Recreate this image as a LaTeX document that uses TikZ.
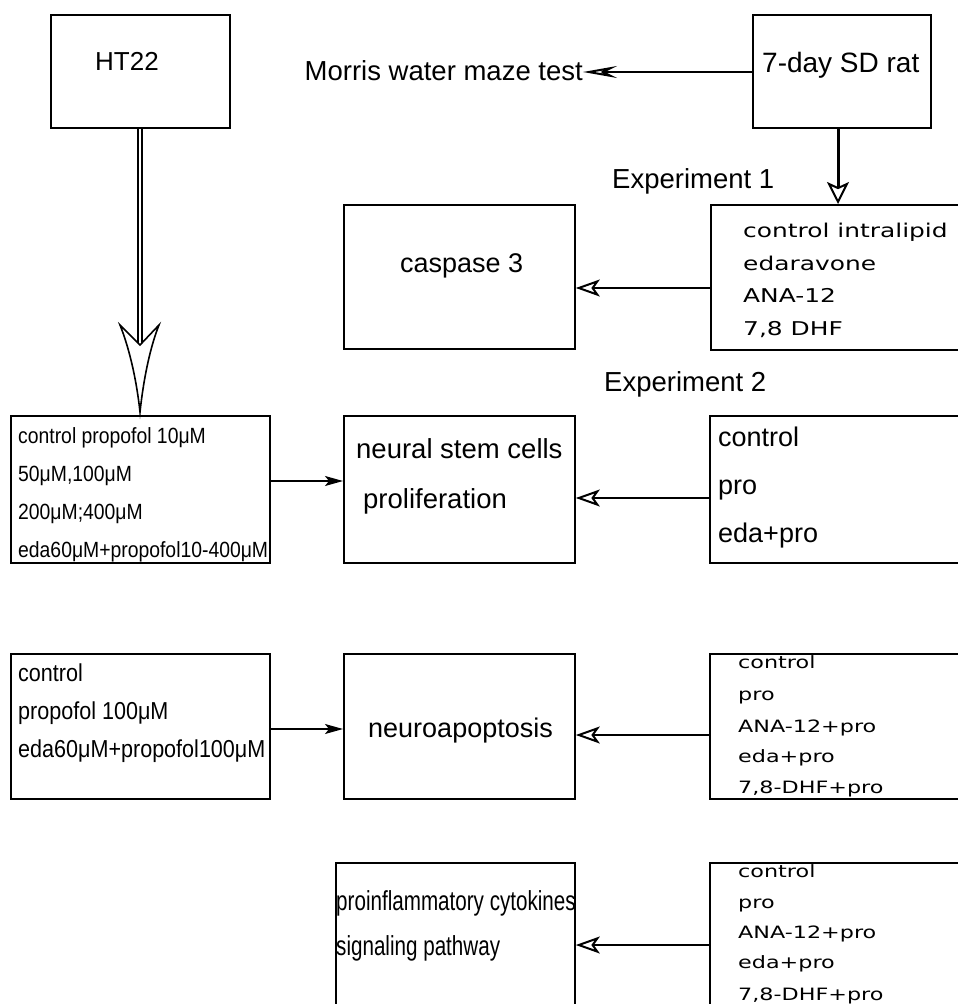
\documentclass[tikz,border=0pt]{standalone}
\usepackage{fontspec}
\setmainfont{Liberation Sans}
\newfontfamily\narrowf[FakeStretch=0.75]{Liberation Sans}
\newfontfamily\semif[FakeStretch=0.88]{Liberation Sans}
\newfontfamily\widef[FakeStretch=1.31]{DejaVu Sans}
\usetikzlibrary{arrows.meta}
\newcommand\setfs[1]{\fontsize{#1}{#1}\selectfont}
\begin{document}
\begin{tikzpicture}[x=1pt,y=-1pt,
  box/.style={draw, line width=1.8pt, inner sep=0pt, anchor=north west},
  txt/.style={inner sep=0pt, anchor=base west},
  big/.style={txt, font=\setfs{27}},
  small/.style={txt, font=\semif\setfs{22}},
  smallb/.style={txt, font=\semif\setfs{24.5}},
  wide/.style={txt, font=\widef\setfs{19}},
  wides/.style={txt, font=\widef\setfs{17}},
  narrow/.style={txt, font=\narrowf\setfs{27.5}},
  conn/.style={line width=2.6pt, -{Stealth[open, length=24pt, width=17pt, inset=6pt, line width=2pt]}},
  thin/.style={line width=1.4pt, -{Stealth[length=18pt, width=10pt, inset=4pt]}},
  marr/.style={line width=2pt, -{Stealth[open, length=34pt, width=12pt, inset=12pt, line width=2pt]}},
  downarr/.style={line width=3pt, -{Stealth[open, length=22pt, width=22pt, inset=5pt, line width=2pt]}},
  dbl/.style={draw, line width=1.8pt, double, double distance=2.6pt}
]
\useasboundingbox (0,0) rectangle (958,1004);
\fill[white] (0,0) rectangle (958,1004);

% boxes
\node[box, minimum width=179pt, minimum height=113pt] (ht) at (50,14) {};
\node[box, minimum width=178pt, minimum height=113pt] (rat) at (752,14) {};
\node[box, minimum width=231pt, minimum height=144pt] (cas) at (343,204) {};
\node[box, minimum width=252pt, minimum height=145pt] (e1) at (710,204) {};
\node[box, minimum width=259pt, minimum height=147pt] (l2) at (10,415) {};
\node[box, minimum width=231pt, minimum height=147pt] (ns) at (343,415) {};
\node[box, minimum width=253pt, minimum height=147pt] (r2) at (709,415) {};
\node[box, minimum width=259pt, minimum height=145pt] (l3) at (10,653) {};
\node[box, minimum width=231pt, minimum height=145pt] (na) at (343,653) {};
\node[box, minimum width=253pt, minimum height=145pt] (r3) at (709,653) {};
\node[box, minimum width=239pt, minimum height=152pt] (pc) at (335,862) {};
\node[box, minimum width=253pt, minimum height=152pt] (r4) at (709,862) {};

% texts
\node[inner sep=0pt, anchor=base, font=\setfs{26}] (htt) at (127,70) {HT22};
\node[txt, font=\setfs{28}] (ratt) at (762,72) {7-day SD rat};
\node[inner sep=0pt, anchor=base east, font=\setfs{27.5}] (morris) at (583,80) {Morris water maze test};
\node[txt, font=\setfs{27.5}] (ex1) at (612,188) {Experiment 1};
\node[txt, font=\setfs{27.5}] (ex2) at (604,391) {Experiment 2};
\node[big] (cast) at (400,272) {caspase 3};

\node[wide] (e1a) at (743,237) {control intralipid};
\node[wide] (e1b) at (743,270) {edaravone};
\node[wide] (e1c) at (743,302) {ANA-12};
\node[wide] (e1d) at (743,335) {7,8 DHF};

\node[small] (l2a) at (18,443) {control propofol 10μM};
\node[small] (l2b) at (18,481) {50μM,100μM};
\node[small] (l2c) at (18,519) {200μM;400μM};
\node[small] (l2d) at (18,557) {eda60μM+propofol10-400μM};

\node[txt, font=\setfs{27.5}] (nsa) at (356,458) {neural stem cells};
\node[txt, font=\setfs{27.5}] (nsb) at (363,508) {proliferation};

\node[big] (r2a) at (718,446) {control};
\node[big] (r2b) at (718,494) {pro};
\node[big] (r2c) at (718,542) {eda+pro};

\node[smallb] (l3a) at (18,681) {control};
\node[smallb] (l3b) at (18,719) {propofol 100μM};
\node[smallb] (l3c) at (18,757) {eda60μM+propofol100μM};

\node[big] (nat) at (368,737) {neuroapoptosis};

\node[wides] (r3a) at (738,668) {control};
\node[wides] (r3b) at (738,700) {pro};
\node[wides] (r3c) at (738,732) {ANA-12+pro};
\node[wides] (r3d) at (738,762) {eda+pro};
\node[wides] (r3e) at (738,793) {7,8-DHF+pro};

\node[narrow] (pca) at (336,910) {proinflammatory cytokines};
\node[narrow] (pcb) at (336,955) {signaling pathway};

\node[wides] (r4a) at (738,877) {control};
\node[wides] (r4b) at (738,908) {pro};
\node[wides] (r4c) at (738,938) {ANA-12+pro};
\node[wides] (r4d) at (738,968) {eda+pro};
\node[wides] (r4e) at (738,1000) {7,8-DHF+pro};

% helper coordinates
\coordinate (ym) at (0,72);
\coordinate (xd) at (838,0);
\coordinate (y1) at (0,288);
\coordinate (y2l) at (0,481);
\coordinate (y2r) at (0,498);
\coordinate (y3l) at (0,729);
\coordinate (y3r) at (0,735);
\coordinate (y4) at (0,945);

% connectors
\draw[marr] (rat.west |- ym) -- (morris.east |- ym);
\draw[downarr] (xd |- rat.south) -- (xd |- e1.north);
\draw[conn] (e1.west |- y1) -- (cas.east |- y1);
\draw[thin] (l2.east |- y2l) -- (ns.west |- y2l);
\draw[conn] (r2.west |- y2r) -- (ns.east |- y2r);
\draw[thin] (l3.east |- y3l) -- (na.west |- y3l);
\draw[conn] (r3.west |- y3r) -- (na.east |- y3r);
\draw[conn] (r4.west |- y4) -- (pc.east |- y4);

% HT22 double arrow
\coordinate (notch) at (140,345);
\coordinate (tip) at (140,412);
\coordinate (bl) at (120,325);
\coordinate (br) at (159,325);
\draw[dbl] (ht.south -| notch) -- ([yshift=-4pt]notch);
\draw[line width=1.6pt, fill=white, line join=miter]
  (tip) .. controls (136,375) and (128,345) .. (bl)
  -- (notch) -- (br) .. controls (151,345) and (144,375) .. (tip) -- cycle;
\end{tikzpicture}
\end{document}
